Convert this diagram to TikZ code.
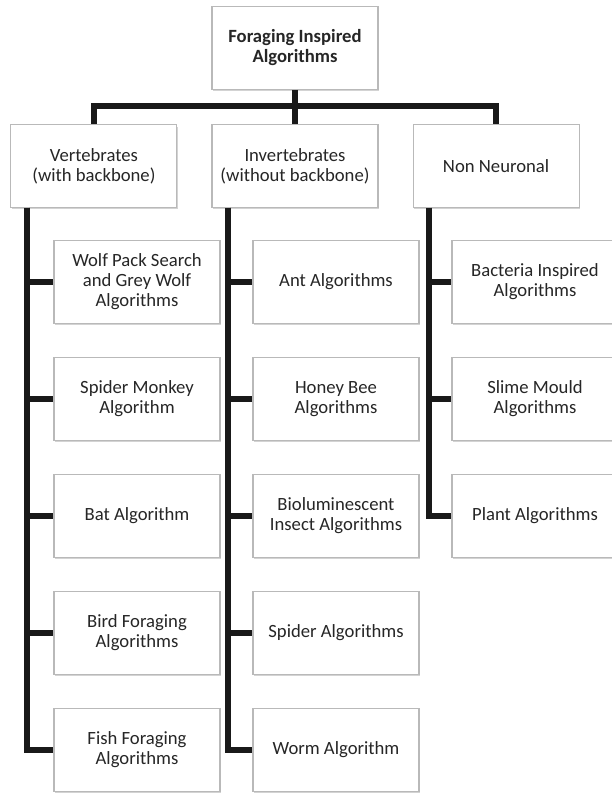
\documentclass[tikz,border=0pt]{standalone}
\usepackage{fontspec}
\setmainfont{Carlito}
\usetikzlibrary{positioning,shadows}

\begin{document}
\begin{tikzpicture}[x=0.75pt,y=-0.75pt]
\tikzstyle{box}=[rectangle, draw=gray!55, line width=0.8pt, fill=white, minimum width=124.5pt, minimum height=62pt, align=center, text=black!85, font=\fontsize{14}{15}\selectfont, drop shadow={shadow xshift=0.6pt, shadow yshift=-1.6pt, opacity=0.35, fill=gray}]
\tikzstyle{link}=[line width=4.5pt, black!90]

\useasboundingbox (0,0) rectangle (611,793);

% top levels
\node[box, font=\fontsize{14}{15}\selectfont\bfseries] (root) at (295,48) {Foraging Inspired\\Algorithms};
\node[box] (inv) at (295,166) {Invertebrates\\(without backbone)};
\node[box, left=25.5pt of inv] (verts) {Vertebrates\\(with backbone)};
\node[box, right=25.5pt of inv] (nonn) {Non Neuronal};

% leaves
\foreach \txt [count=\i] in {{Wolf Pack Search\\and Grey Wolf\\Algorithms}, {Spider Monkey\\Algorithm}, {Bat Algorithm}, {Bird Foraging\\Algorithms}, {Fish Foraging\\Algorithms}}
  \node[box] (v\i) at (137,165+117*\i) {\txt};
\foreach \txt [count=\i] in {{Ant Algorithms}, {Honey Bee\\Algorithms}, {Bioluminescent\\Insect Algorithms}, {Spider Algorithms}, {Worm Algorithm}}
  \node[box] (i\i) at (336,165+117*\i) {\txt};
\foreach \txt [count=\i] in {{Bacteria Inspired\\Algorithms}, {Slime Mould\\Algorithms}, {Plant Algorithms}}
  \node[box] (n\i) at (535,165+117*\i) {\txt};

% connectors
\coordinate (bar) at (295,106);
\draw[link] (root.south) -- (inv.north);
\draw[link] (verts.north) |- (bar) -| (nonn.north);

\coordinate (vt) at ([xshift=12.4pt]verts.south west);
\coordinate (it) at ([xshift=12.4pt]inv.south west);
\coordinate (nt) at ([xshift=12.4pt]nonn.south west);
\foreach \i in {1,...,5} \draw[link] (vt) |- (v\i.west);
\foreach \i in {1,...,5} \draw[link] (it) |- (i\i.west);
\foreach \i in {1,...,3} \draw[link] (nt) |- (n\i.west);
\end{tikzpicture}
\end{document}
